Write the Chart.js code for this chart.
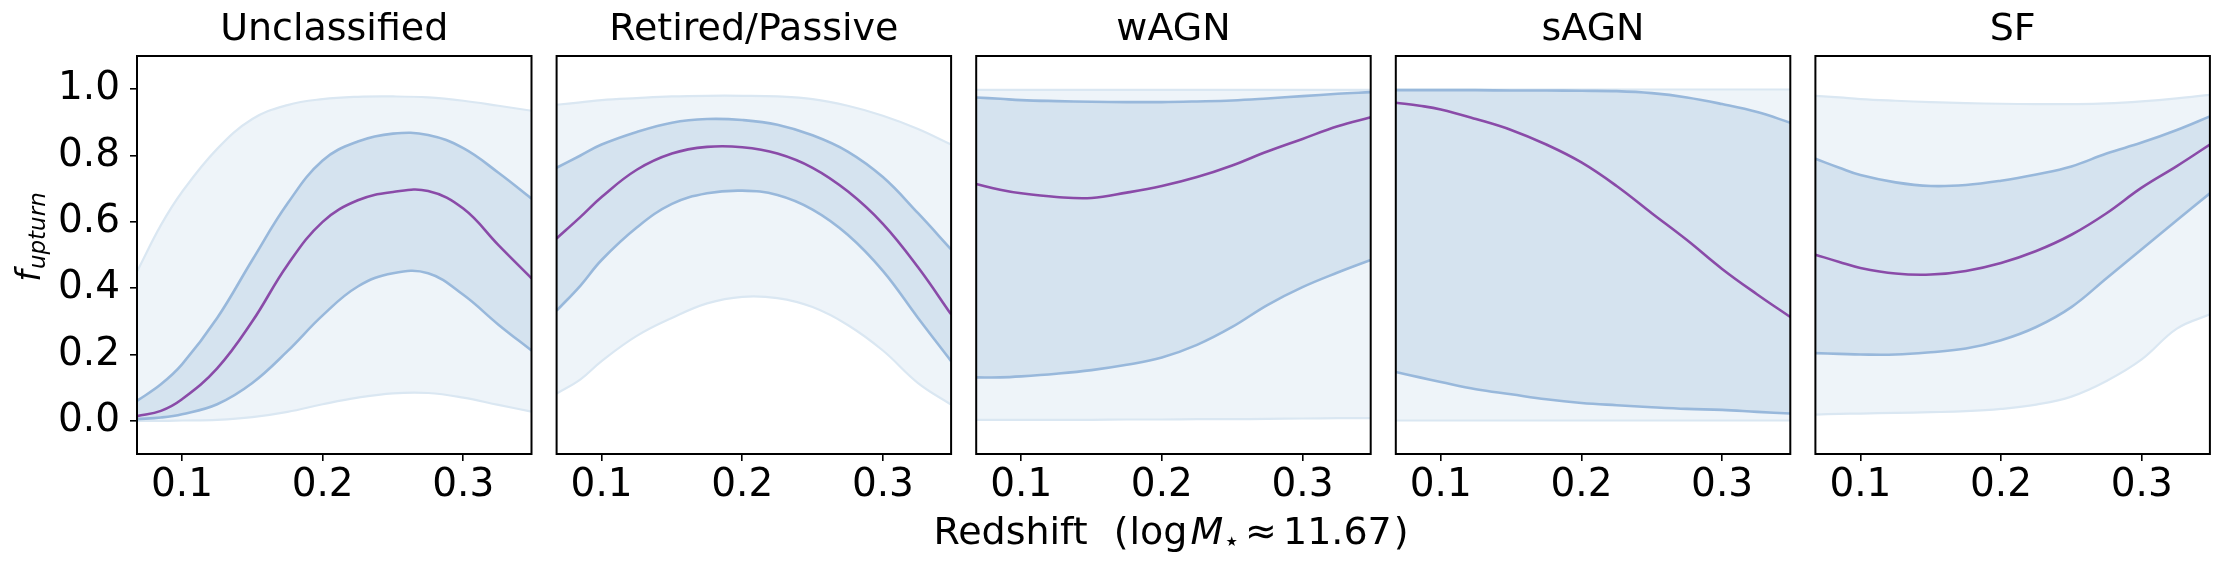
<!DOCTYPE html>
<html>
<head>
<meta charset="utf-8">
<script src="https://cdn.jsdelivr.net/npm/chart.js@4.4.1/dist/chart.umd.min.js"></script>
<style>
  html, body { margin: 0; padding: 0; background: #fff; }
  #fig { position: relative; width: 2229px; height: 566px; }
  #fig canvas { position: absolute; left: 0; top: 0; }
</style>
</head>
<body>
<div id="fig">
  <canvas id="p0" width="2229" height="566"></canvas>
  <canvas id="p1" width="2229" height="566"></canvas>
  <canvas id="p2" width="2229" height="566"></canvas>
  <canvas id="p3" width="2229" height="566"></canvas>
  <canvas id="p4" width="2229" height="566"></canvas>
</div>
<script>
// Upturn fraction vs redshift per spectral class: median (purple) with an
// inner and an outer credible band.
var REDSHIFT = [0.068, 0.085, 0.10, 0.125, 0.15, 0.175, 0.20, 0.225, 0.25, 0.275, 0.30, 0.325, 0.3485];
var CLASSES = ["Unclassified", "Retired/Passive", "wAGN", "sAGN", "SF"];
var X_TICKS = [0.1, 0.2, 0.3];
var Y_TICKS = [0.0, 0.2, 0.4, 0.6, 0.8, 1.0];

var UNCL_OUT_HI = [0.45, 0.59, 0.69, 0.82, 0.91, 0.952, 0.97, 0.977, 0.978, 0.975, 0.965, 0.95, 0.935];
var UNCL_IN_HI  = [0.06, 0.11, 0.17, 0.31, 0.485, 0.655, 0.785, 0.842, 0.866, 0.862, 0.822, 0.748, 0.67];
var UNCL_MED    = [0.014, 0.03, 0.065, 0.158, 0.30, 0.47, 0.60, 0.665, 0.69, 0.693, 0.64, 0.53, 0.43];
var UNCL_IN_LO  = [0.005, 0.01, 0.02, 0.05, 0.114, 0.21, 0.318, 0.405, 0.445, 0.445, 0.38, 0.29, 0.212];
var UNCL_OUT_LO = [0.0, 0.0, 0.001, 0.003, 0.011, 0.027, 0.05, 0.07, 0.083, 0.084, 0.07, 0.048, 0.028];

var RET_OUT_HI = [0.953, 0.96, 0.967, 0.973, 0.978, 0.98, 0.98, 0.978, 0.97, 0.95, 0.92, 0.88, 0.833];
var RET_IN_HI  = [0.763, 0.80, 0.833, 0.871, 0.899, 0.91, 0.907, 0.893, 0.861, 0.812, 0.735, 0.626, 0.517];
var RET_MED    = [0.55, 0.615, 0.675, 0.757, 0.806, 0.826, 0.825, 0.806, 0.763, 0.692, 0.594, 0.463, 0.321];
var RET_IN_LO  = [0.332, 0.408, 0.485, 0.583, 0.654, 0.686, 0.694, 0.681, 0.637, 0.561, 0.452, 0.31, 0.18];
var RET_OUT_LO = [0.082, 0.125, 0.18, 0.256, 0.31, 0.354, 0.374, 0.37, 0.343, 0.289, 0.212, 0.114, 0.049];

var WAGN_OUT_HI = [0.998, 0.998, 0.998, 0.998, 0.998, 0.998, 0.998, 0.998, 0.998, 0.998, 0.998, 0.998, 0.998];
var WAGN_IN_HI  = [0.975, 0.971, 0.967, 0.964, 0.962, 0.961, 0.961, 0.963, 0.966, 0.972, 0.979, 0.986, 0.991];
var WAGN_MED    = [0.714, 0.697, 0.686, 0.675, 0.672, 0.688, 0.708, 0.735, 0.77, 0.812, 0.85, 0.888, 0.915];
var WAGN_IN_LO  = [0.131, 0.131, 0.134, 0.142, 0.153, 0.169, 0.191, 0.229, 0.283, 0.349, 0.403, 0.447, 0.485];
var WAGN_OUT_LO = [0.003, 0.003, 0.003, 0.003, 0.003, 0.004, 0.004, 0.005, 0.005, 0.006, 0.007, 0.008, 0.008];

var SAGN_OUT_HI = [0.999, 0.999, 0.999, 0.999, 0.999, 0.999, 0.999, 0.999, 0.999, 0.999, 0.999, 0.999, 0.999];
var SAGN_IN_HI  = [0.997, 0.997, 0.997, 0.997, 0.996, 0.996, 0.995, 0.994, 0.988, 0.975, 0.955, 0.931, 0.899];
var SAGN_MED    = [0.959, 0.95, 0.939, 0.91, 0.877, 0.833, 0.779, 0.708, 0.626, 0.545, 0.458, 0.381, 0.313];
var SAGN_IN_LO  = [0.147, 0.131, 0.117, 0.095, 0.08, 0.065, 0.054, 0.047, 0.041, 0.036, 0.033, 0.027, 0.022];
var SAGN_OUT_LO = [0.001, 0.001, 0.001, 0.001, 0.001, 0.001, 0.001, 0.001, 0.001, 0.001, 0.001, 0.001, 0.001];

var SF_OUT_HI = [0.98, 0.975, 0.97, 0.965, 0.961, 0.958, 0.956, 0.955, 0.955, 0.957, 0.963, 0.972, 0.983];
var SF_IN_HI  = [0.79, 0.763, 0.741, 0.719, 0.708, 0.711, 0.724, 0.743, 0.767, 0.806, 0.839, 0.877, 0.918];
var SF_MED    = [0.501, 0.479, 0.461, 0.444, 0.441, 0.452, 0.476, 0.512, 0.561, 0.626, 0.703, 0.768, 0.833];
var SF_IN_LO  = [0.204, 0.202, 0.20, 0.20, 0.207, 0.218, 0.243, 0.283, 0.343, 0.43, 0.517, 0.605, 0.686];
var SF_OUT_LO = [0.019, 0.021, 0.022, 0.024, 0.026, 0.029, 0.036, 0.049, 0.073, 0.12, 0.185, 0.278, 0.321];

var SERIES = [
  [UNCL_MED, UNCL_IN_HI, UNCL_IN_LO, UNCL_OUT_HI, UNCL_OUT_LO],
  [RET_MED, RET_IN_HI, RET_IN_LO, RET_OUT_HI, RET_OUT_LO],
  [WAGN_MED, WAGN_IN_HI, WAGN_IN_LO, WAGN_OUT_HI, WAGN_OUT_LO],
  [SAGN_MED, SAGN_IN_HI, SAGN_IN_LO, SAGN_OUT_HI, SAGN_OUT_LO],
  [SF_MED, SF_IN_HI, SF_IN_LO, SF_OUT_HI, SF_OUT_LO],
];

(function () {
  "use strict";

  var W = 2229, H = 566;
  var FONT = "DejaVu Sans";
  // five equal plot areas, evenly spaced (figure pixels)
  var FIRST_LEFT = 137, PANEL_STEP = 419.6, PANEL_W = 394.5;
  var AREA_TOP = 56, AREA_BOTTOM = 454, PAD_TOP = 7;
  var TITLE_SIZE = 38, TICK_SIZE = 39;

  var C_MED = "#8a4ba8";
  var C_IN_LINE = "#98b8db", C_IN_FILL = "#d5e3ef";
  var C_OUT_LINE = "#dae7f2", C_OUT_FILL = "#eef4f9";

  Chart.defaults.font.family = FONT;
  Chart.defaults.color = "#000";

  function pts(ys) {
    return ys.map(function (y, i) { return { x: REDSHIFT[i], y: y }; });
  }

  function line(ys, color, width, fill, bg) {
    return {
      data: pts(ys),
      borderColor: color,
      borderWidth: width,
      backgroundColor: bg || "transparent",
      fill: fill,
      pointRadius: 0,
      tension: 0.4,
    };
  }

  // black box round the plot area, like the matplotlib spines
  var framePlugin = {
    id: "frame",
    afterDraw: function (chart) {
      var a = chart.chartArea, ctx = chart.ctx;
      ctx.save();
      ctx.strokeStyle = "#000";
      ctx.lineWidth = 2;
      ctx.strokeRect(a.left, a.top, a.right - a.left, a.bottom - a.top);
      ctx.restore();
    },
  };

  // rotated "f_upturn" label on the first panel
  var yLabelPlugin = {
    id: "ylabel",
    afterDraw: function (chart) {
      var ctx = chart.ctx;
      var big = "italic 33px '" + FONT + "'", small = "italic 23px '" + FONT + "'";
      ctx.save();
      ctx.font = big;
      var wf = ctx.measureText("f").width;
      ctx.font = small;
      var ws = ctx.measureText("upturn").width;
      var total = wf + 1 + ws;
      ctx.translate(40, 237);
      ctx.rotate(-Math.PI / 2);
      ctx.fillStyle = "#000";
      ctx.textBaseline = "alphabetic";
      ctx.font = big;
      ctx.fillText("f", -total / 2, 0);
      ctx.font = small;
      ctx.fillText("upturn", -total / 2 + wf + 1, 5);
      ctx.restore();
    },
  };

  // shared x label "Redshift  (log M⋆ ≈ 11.67)" drawn under the middle panel
  var xLabelPlugin = {
    id: "xlabel",
    afterDraw: function (chart) {
      var ctx = chart.ctx;
      var reg = "38px '" + FONT + "'", ita = "italic 38px '" + FONT + "'", sub = "27px '" + FONT + "'";
      var parts = [
        { t: "Redshift", f: reg, dy: 0, gap: 26 },
        { t: "(", f: reg, dy: 0, gap: 1 },
        { t: "log", f: reg, dy: 0, gap: 3 },
        { t: "M", f: ita, dy: 0, gap: 0 },
        { t: "\u22C6", f: sub, dy: 6, gap: 5 },
        { t: "\u2248", f: reg, dy: 0, gap: 6 },
        { t: "11.67", f: reg, dy: 0, gap: 2 },
        { t: ")", f: reg, dy: 0, gap: 0 },
      ];
      ctx.save();
      var total = 0;
      parts.forEach(function (p) {
        ctx.font = p.f;
        p.w = ctx.measureText(p.t).width;
        total += p.w + p.gap;
      });
      var x = 1171 - total / 2, base = 544;
      ctx.fillStyle = "#000";
      ctx.textBaseline = "alphabetic";
      parts.forEach(function (p) {
        ctx.font = p.f;
        ctx.fillText(p.t, x, base + p.dy);
        x += p.w + p.gap;
      });
      ctx.restore();
    },
  };

  function makePanel(idx) {
    var s = SERIES[idx];
    var first = idx === 0;
    var left = FIRST_LEFT + PANEL_STEP * idx;
    var right = left + PANEL_W;
    var plugins = [framePlugin];
    if (first) plugins.push(yLabelPlugin);
    if (idx === 2) plugins.push(xLabelPlugin);

    var tickGrid = {
      display: true,
      drawOnChartArea: false,
      drawTicks: true,
      tickLength: 7,
      color: "#000",
      lineWidth: 1.6,
    };

    new Chart(document.getElementById("p" + idx), {
      type: "line",
      data: {
        datasets: [
          line(s[0], C_MED, 2.6, false),
          line(s[1], C_IN_LINE, 2.6, false),
          line(s[2], C_IN_LINE, 2.6, 1, C_IN_FILL),
          line(s[3], C_OUT_LINE, 2.2, false),
          line(s[4], C_OUT_LINE, 2.2, 3, C_OUT_FILL),
        ],
      },
      options: {
        responsive: false,
        animation: false,
        events: [],
        layout: {
          padding: {
            left: first ? 0 : left,
            right: W - right,
            top: PAD_TOP,
            bottom: 0,
          },
        },
        scales: {
          x: {
            type: "linear",
            min: 0.068,
            max: 0.3485,
            afterBuildTicks: function (sc) {
              sc.ticks = X_TICKS.map(function (v) { return { value: v }; });
            },
            afterFit: function (sc) { sc.height = H - AREA_BOTTOM; },
            grid: tickGrid,
            border: { display: false },
            ticks: {
              font: { size: TICK_SIZE },
              padding: 1,
              maxRotation: 0,
              autoSkip: false,
              callback: function (v) { return v.toFixed(1); },
            },
          },
          y: {
            type: "linear",
            display: first,
            min: -0.1,
            max: 1.1,
            afterBuildTicks: function (sc) {
              sc.ticks = Y_TICKS.map(function (v) { return { value: v }; });
            },
            afterFit: function (sc) { sc.width = first ? left : 0; },
            grid: tickGrid,
            border: { display: false },
            ticks: {
              font: { size: TICK_SIZE },
              padding: 10,
              callback: function (v) { return v.toFixed(1); },
            },
          },
        },
        plugins: {
          legend: { display: false },
          tooltip: { enabled: false },
          title: {
            display: true,
            text: CLASSES[idx],
            fullSize: false,
            color: "#000",
            font: { size: TITLE_SIZE, weight: "normal", lineHeight: 1.2 },
            padding: { top: 0, bottom: AREA_TOP - PAD_TOP - TITLE_SIZE * 1.2 },
          },
        },
      },
      plugins: plugins,
    });
  }

  for (var i = 0; i < CLASSES.length; i++) makePanel(i);
})();
</script>
</body>
</html>
